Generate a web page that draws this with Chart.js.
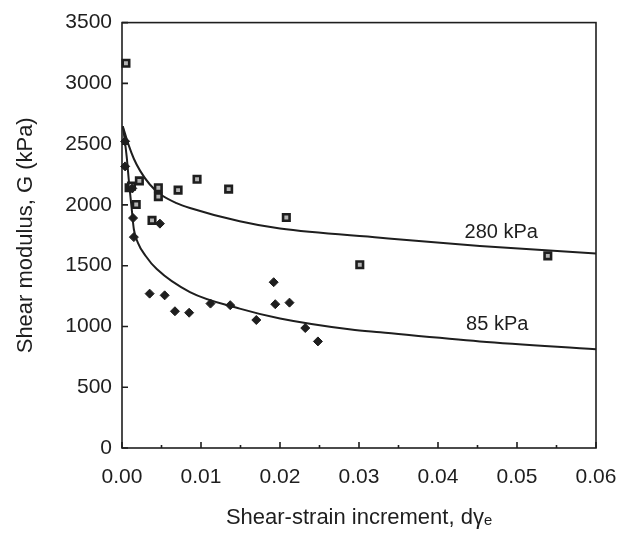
<!DOCTYPE html>
<html>
<head>
<meta charset="utf-8">
<script src="https://cdn.jsdelivr.net/npm/chart.js@4.4.1/dist/chart.umd.min.js"></script>
<style>
  html, body { margin: 0; padding: 0; background: #fff; }
</style>
</head>
<body>
<canvas id="shearChart" width="636" height="536"></canvas>
<script>
/* ================= DATA ================= */
// 280 kPa test - open squares
const strain280 = [0.0005, 0.0009, 0.0012, 0.0022, 0.0018, 0.0038, 0.0046, 0.0046, 0.0071, 0.0095, 0.0135, 0.0208, 0.0301, 0.0539];
const modulus280 = [3165, 2141, 2155, 2198, 2003, 1873, 2141, 2068, 2122, 2211, 2130, 1896, 1508, 1581];

// 85 kPa test - filled diamonds
const strain85 = [0.0004, 0.0004, 0.0013, 0.0014, 0.0015, 0.0048, 0.0035, 0.0054, 0.0067, 0.0085, 0.0112, 0.0137, 0.0170, 0.0192, 0.0194, 0.0212, 0.0232, 0.0248];
const modulus85 = [2523, 2317, 2136, 1892, 1735, 1846, 1270, 1256, 1125, 1113, 1188, 1175, 1053, 1364, 1183, 1196, 987, 877];

// fitted curves
const curveX280 = [0.0001, 0.0008, 0.0015, 0.0023, 0.0035, 0.0048, 0.0069, 0.0086, 0.0149, 0.0200, 0.0327, 0.0453, 0.0600];
const curveG280 = [2647, 2500, 2380, 2280, 2170, 2090, 2015, 1975, 1865, 1805, 1730, 1662, 1600];
const curveX85 = [0.0001, 0.0003, 0.0006, 0.0009, 0.0012, 0.0015, 0.0020, 0.0030, 0.0044, 0.0086, 0.0149, 0.0200, 0.0290, 0.0327, 0.0453, 0.0600];
const curveG85 = [2647, 2556, 2393, 2176, 1987, 1800, 1690, 1580, 1472, 1283, 1147, 1066, 975, 952, 877, 812];

// curve labels
const curveLabels = ["280 kPa", "85 kPa"];
const labelX = [0.0480, 0.0475];
const labelG = [1770, 1015];

const xMin = 0, xMax = 0.06, xStep = 0.005;
const yMin = 0, yMax = 3500, yStep = 500;

const pts = (xs, ys) => xs.map((v, i) => ({ x: v, y: ys[i] }));

const FONT = "'Liberation Sans', Arial, Helvetica, sans-serif";
const INK = "#1e1e1e";

/* ================= FRAME + INWARD TICKS + CURVE LABELS ================= */
const frameTicks = {
  id: "frameTicks",
  beforeDatasetsDraw(chart) {
    const { ctx, chartArea: a, scales: { x, y } } = chart;
    ctx.save();
    ctx.strokeStyle = INK;
    ctx.lineWidth = 1.6;
    ctx.strokeRect(a.left, a.top, a.right - a.left, a.bottom - a.top);
    ctx.beginPath();
    x.ticks.forEach(t => {
      const px = x.getPixelForValue(t.value);
      const major = Math.round(t.value * 1000) % 10 === 0;
      ctx.moveTo(px, a.bottom);
      ctx.lineTo(px, a.bottom - (major ? 6 : 3));
    });
    y.ticks.forEach(t => {
      const py = y.getPixelForValue(t.value);
      ctx.moveTo(a.left, py);
      ctx.lineTo(a.left + 6, py);
    });
    ctx.stroke();
    ctx.restore();
  },
  afterDatasetsDraw(chart) {
    const { ctx, scales: { x, y } } = chart;
    ctx.save();
    ctx.fillStyle = INK;
    ctx.font = "20px " + FONT;
    ctx.textAlign = "center";
    ctx.textBaseline = "middle";
    curveLabels.forEach((txt, i) => {
      ctx.fillText(txt, x.getPixelForValue(labelX[i]), y.getPixelForValue(labelG[i]));
    });
    ctx.restore();
  }
};

new Chart(document.getElementById("shearChart"), {
  type: "scatter",
  data: {
    datasets: [
      {
        label: "280 kPa",
        data: pts(strain280, modulus280),
        pointStyle: "rect",
        pointRadius: 4.6,
        backgroundColor: "#b4b4b4",
        borderColor: INK,
        borderWidth: 2.6,
        clip: false,
        order: 1
      },
      {
        label: "85 kPa",
        data: pts(strain85, modulus85),
        pointStyle: "rectRot",
        pointRadius: 4.5,
        backgroundColor: INK,
        borderColor: INK,
        borderWidth: 1,
        clip: false,
        order: 0
      },
      {
        type: "line",
        label: "fit 280",
        data: pts(curveX280, curveG280),
        borderColor: INK,
        borderWidth: 2,
        pointRadius: 0,
        fill: false,
        cubicInterpolationMode: "monotone",
        order: 2
      },
      {
        type: "line",
        label: "fit 85",
        data: pts(curveX85, curveG85),
        borderColor: INK,
        borderWidth: 2,
        pointRadius: 0,
        fill: false,
        cubicInterpolationMode: "monotone",
        order: 2
      }
    ]
  },
  options: {
    responsive: false,
    animation: false,
    layout: { padding: { left: 0, right: 40, top: 17, bottom: 0 } },
    plugins: {
      legend: { display: false },
      tooltip: { enabled: false }
    },
    scales: {
      x: {
        type: "linear",
        min: xMin,
        max: xMax,
        grid: { display: false, drawTicks: false },
        border: { display: false },
        afterFit: s => { s.height = 88; },
        ticks: {
          stepSize: xStep,
          autoSkip: false,
          maxRotation: 0,
          padding: 17,
          color: INK,
          font: { family: FONT, size: 21 },
          callback: v => (Math.round(v * 1000) % 10 === 0 ? v.toFixed(2) : "")
        },
        title: {
          display: true,
          text: "Shear-strain increment, dγₑ",
          color: INK,
          font: { family: FONT, size: 22 },
          padding: { top: 0, bottom: 5 }
        }
      },
      y: {
        type: "linear",
        min: yMin,
        max: yMax,
        grid: { display: false, drawTicks: false },
        border: { display: false },
        afterFit: s => { s.width = 122; },
        ticks: {
          stepSize: yStep,
          padding: 10,
          color: INK,
          font: { family: FONT, size: 21 },
          callback: v => String(v)
        },
        title: {
          display: true,
          text: "Shear modulus, G (kPa)",
          color: INK,
          font: { family: FONT, size: 22 },
          padding: { top: 13, bottom: 0 }
        }
      }
    }
  },
  plugins: [frameTicks]
});
</script>
</body>
</html>
